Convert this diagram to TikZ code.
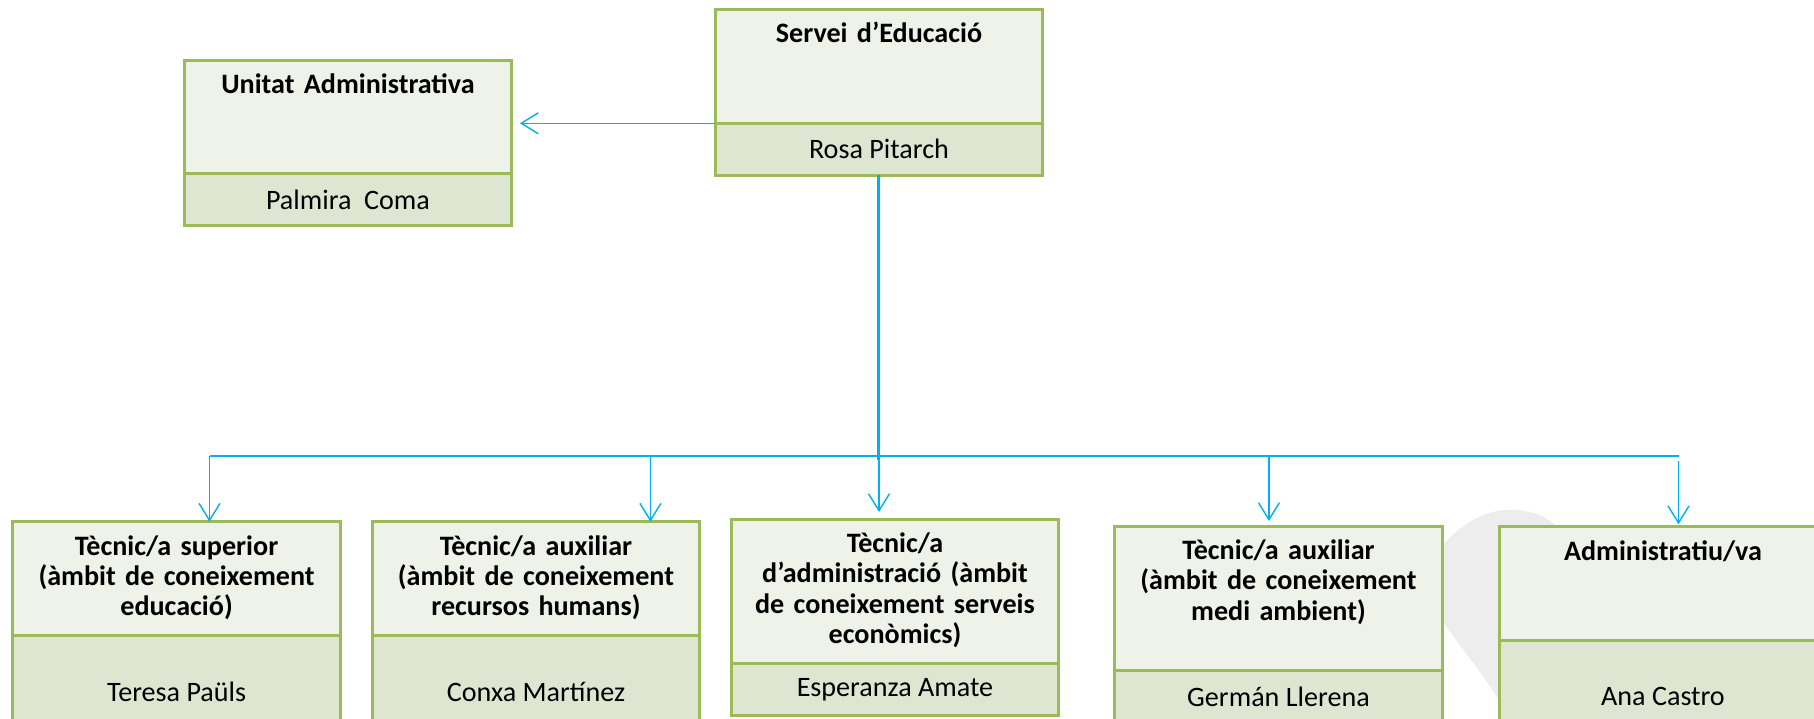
\documentclass[tikz,border=0pt]{standalone}
\usepackage{fontspec}
\setmainfont{Carlito}
\usetikzlibrary{arrows.meta, positioning}
\definecolor{boxgreen}{RGB}{155,187,89}
\definecolor{headfill}{RGB}{238,242,232}
\definecolor{namefill}{RGB}{222,230,209}
\definecolor{linkblue}{RGB}{0,176,240}
\definecolor{markgrey}{RGB}{237,237,237}

\begin{document}
\begin{tikzpicture}[
    x=0.02cm, y=-0.02cm,
    rolebox/.style={rectangle, draw=boxgreen, fill=headfill, line width=0.06cm, outer sep=0pt,
                    inner sep=0pt, anchor=north west, text width=6.56cm, align=center,
                    font=\fontsize{16pt}{17.3pt}\selectfont\bfseries,
                    text height=0.666cm, text depth=1.614cm},
    tallrole/.style={rolebox, text depth=2.234cm},
    namebox/.style={rectangle, draw=boxgreen, fill=namefill, line width=0.06cm, outer sep=0pt,
                    minimum width=6.56cm, minimum height=1.04cm,
                    font=\fontsize{16pt}{17.3pt}\selectfont},
    link/.style={draw=linkblue, line width=0.028cm, -{Straight Barb[length=0.34cm, width=0.42cm]}},
    trunk/.style={draw=linkblue, line width=0.06cm},
    bus/.style={draw=linkblue, line width=0.046cm}
]
\clip (0,0) rectangle (1814,718);

% grey watermark behind the right boxes
\fill[markgrey] (1430,560) .. controls (1460,520) and (1490,508) .. (1515,510)
    .. controls (1535,511) and (1550,518) .. (1560,530) -- (1560,700) -- (1499,700)
    .. controls (1480,670) and (1455,640) .. (1438,615) -- cycle;

% head of service and admin unit
\node[rolebox] (servhead) at (715,9.3) {Servei d’Educació};
\node[namebox, below=0pt of servhead] (servname) {Rosa Pitarch};
\node[rolebox] (unithead) at (184,60) {Unitat Administrativa};
\node[namebox, below=0pt of unithead] (unitname) {Palmira\ \ Coma};

% staff
\node[rolebox] (supehead) at (12.6,521.7) {Tècnic/a superior\\(àmbit de coneixement\\educació)};
\node[namebox, below=0pt of supehead, minimum height=2.24cm] (supename) {Teresa Paüls};
\node[rolebox] (rrhhhead) at (372,521.7) {Tècnic/a auxiliar\\(àmbit de coneixement\\recursos humans)};
\node[namebox, below=0pt of rrhhhead, minimum height=2.24cm] (rrhhname) {Conxa Martínez};
\node[tallrole] (econhead) at (731,519) {Tècnic/a\\d’administració (àmbit\\de coneixement serveis\\econòmics)};
\node[namebox, below=0pt of econhead] (econname) {Esperanza Amate};
\node[tallrole] (medihead) at (1114.5,526) {Tècnic/a auxiliar\\(àmbit de coneixement\\medi ambient)};
\node[namebox, below=0pt of medihead] (mediname) {Germán Llerena};
\node[rolebox] (admihead) at (1499,526.7) {Administratiu/va};
\node[namebox, below=0pt of admihead, minimum height=2.24cm] (adminame) {Ana Castro};

% connectors
\draw[link, shorten >=0.16cm] (servhead.south west) -- (servhead.south west -| unithead.east);
\draw[trunk] (servname.south) -- ++(0,284.5);

\coordinate (tap1) at (209.5,456);
\coordinate (tap2) at (650.4,456);
\coordinate (tap3) at (servname.south |- tap1);
\coordinate (tap4) at (1268.9,456);
\coordinate (tap5) at (1678.5,456);
\draw[bus] (tap1) -- (tap5);

\draw[link] (tap1) -- (tap1 |- supehead.north);
\draw[link] (tap2) -- (tap2 |- rrhhhead.north);
\draw[link, shorten >=0.14cm] (tap3) -- (tap3 |- econhead.north);
\draw[link, shorten >=0.1cm] (tap4) -- (tap4 |- medihead.north);
\draw[link, shorten <=0.1cm, shorten >=0.05cm] (tap5) -- (tap5 |- admihead.north);
\end{tikzpicture}
\end{document}
